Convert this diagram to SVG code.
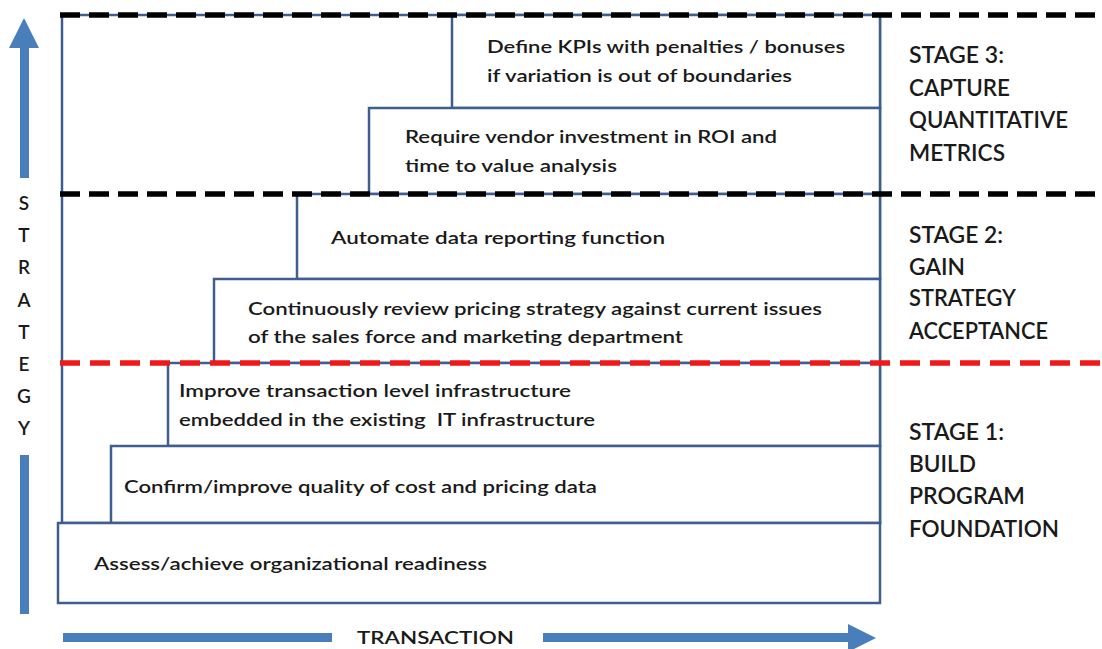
<svg xmlns="http://www.w3.org/2000/svg" width="1102" height="649" viewBox="0 0 1102 649">
<style>
.box{fill:#fff;stroke:#3E5F8E;stroke-width:2.5}
.t{font-family:Lato,"Open Sans","Liberation Sans",sans-serif;font-size:18px;font-weight:600;fill:#1a1a1a}
.s{font-family:Lato,"Open Sans","Liberation Sans",sans-serif;font-size:22px;font-weight:600;fill:#1a1a1a}
.ax{fill:#4A7EBB}
.dk{stroke:#000;stroke-width:5.5;stroke-dasharray:20 9;fill:none}
.rd{stroke:#F01818;stroke-width:5.5;stroke-dasharray:20 10;fill:none}
</style>
<rect width="1102" height="649" fill="#fff"/>
<rect id="frame" class="box" x="62" y="15" width="818" height="508"/>
<g id="box-kpi">
<rect class="box" x="452" y="15" width="428" height="93"/>
<text class="t" x="487" y="53" textLength="358" lengthAdjust="spacingAndGlyphs">Define KPIs with penalties / bonuses</text>
<text class="t" x="487" y="82" textLength="305" lengthAdjust="spacingAndGlyphs">if variation is out of boundaries</text>
</g>
<g id="box-roi">
<rect class="box" x="369" y="108" width="511" height="86"/>
<text class="t" x="405" y="143" textLength="372" lengthAdjust="spacingAndGlyphs">Require vendor investment in ROI and</text>
<text class="t" x="405" y="172" textLength="212" lengthAdjust="spacingAndGlyphs">time to value analysis</text>
</g>
<g id="box-automate">
<rect class="box" x="297" y="194" width="583" height="85"/>
<text class="t" x="331" y="244" textLength="334" lengthAdjust="spacingAndGlyphs">Automate data reporting function</text>
</g>
<g id="box-review">
<rect class="box" x="214" y="279" width="666" height="84"/>
<text class="t" x="248" y="315" textLength="574" lengthAdjust="spacingAndGlyphs">Continuously review pricing strategy against current issues</text>
<text class="t" x="248" y="343" textLength="435" lengthAdjust="spacingAndGlyphs">of the sales force and marketing department</text>
</g>
<g id="box-infra">
<rect class="box" x="168" y="363" width="712" height="83"/>
<text class="t" x="179" y="397" textLength="392" lengthAdjust="spacingAndGlyphs">Improve transaction level infrastructure</text>
<text class="t" x="179" y="426" textLength="416" lengthAdjust="spacingAndGlyphs" xml:space="preserve">embedded in the existing  IT infrastructure</text>
</g>
<g id="box-quality">
<rect class="box" x="111" y="446" width="769" height="77"/>
<text class="t" x="124" y="493" textLength="473" lengthAdjust="spacingAndGlyphs">Confirm/improve quality of cost and pricing data</text>
</g>
<g id="box-readiness">
<rect class="box" x="58" y="523" width="822" height="80"/>
<text class="t" x="94" y="570" textLength="393" lengthAdjust="spacingAndGlyphs">Assess/achieve organizational readiness</text>
</g>
<g id="stage-lines">
<line class="dk" x1="60" y1="15" x2="1102" y2="15"/>
<line class="dk" x1="60" y1="194" x2="1102" y2="194"/>
<line class="rd" x1="60" y1="363" x2="1102" y2="363"/>
</g>
<g id="stage3">
<text class="s" x="909" y="63" textLength="95" lengthAdjust="spacingAndGlyphs">STAGE 3:</text>
<text class="s" x="909" y="96" textLength="101" lengthAdjust="spacingAndGlyphs">CAPTURE</text>
<text class="s" x="909" y="128" textLength="159" lengthAdjust="spacingAndGlyphs">QUANTITATIVE</text>
<text class="s" x="909" y="161" textLength="96" lengthAdjust="spacingAndGlyphs">METRICS</text>
</g>
<g id="stage2">
<text class="s" x="909" y="243" textLength="94" lengthAdjust="spacingAndGlyphs">STAGE 2:</text>
<text class="s" x="909" y="275" textLength="56" lengthAdjust="spacingAndGlyphs">GAIN</text>
<text class="s" x="909" y="306" textLength="107" lengthAdjust="spacingAndGlyphs">STRATEGY</text>
<text class="s" x="909" y="339" textLength="139" lengthAdjust="spacingAndGlyphs">ACCEPTANCE</text>
</g>
<g id="stage1">
<text class="s" x="909" y="440" textLength="95" lengthAdjust="spacingAndGlyphs">STAGE 1:</text>
<text class="s" x="909" y="472" textLength="67" lengthAdjust="spacingAndGlyphs">BUILD</text>
<text class="s" x="909" y="504" textLength="116" lengthAdjust="spacingAndGlyphs">PROGRAM</text>
<text class="s" x="909" y="537" textLength="150" lengthAdjust="spacingAndGlyphs">FOUNDATION</text>
</g>
<g id="axes">
<polygon class="ax" points="24,18 39,48 29,48 29,178 20,178 20,48 9,48"/>
<rect class="ax" x="20" y="455" width="9" height="159"/>
<rect class="ax" x="63" y="633" width="269" height="9"/>
<polygon class="ax" points="543,633 848,633 848,624 876,638 848,652 848,642 543,642"/>
</g>
<g id="axis-labels" class="t" text-anchor="middle">
<text x="24" y="210" font-size="19">S</text>
<text x="24" y="242" font-size="19">T</text>
<text x="24" y="274" font-size="19">R</text>
<text x="24" y="307" font-size="19">A</text>
<text x="24" y="339" font-size="19">T</text>
<text x="24" y="371" font-size="19">E</text>
<text x="24" y="403" font-size="19">G</text>
<text x="24" y="435" font-size="19">Y</text>
<text x="436" y="644" text-anchor="start" dx="-79" textLength="157" lengthAdjust="spacingAndGlyphs">TRANSACTION</text>
</g>
</svg>
